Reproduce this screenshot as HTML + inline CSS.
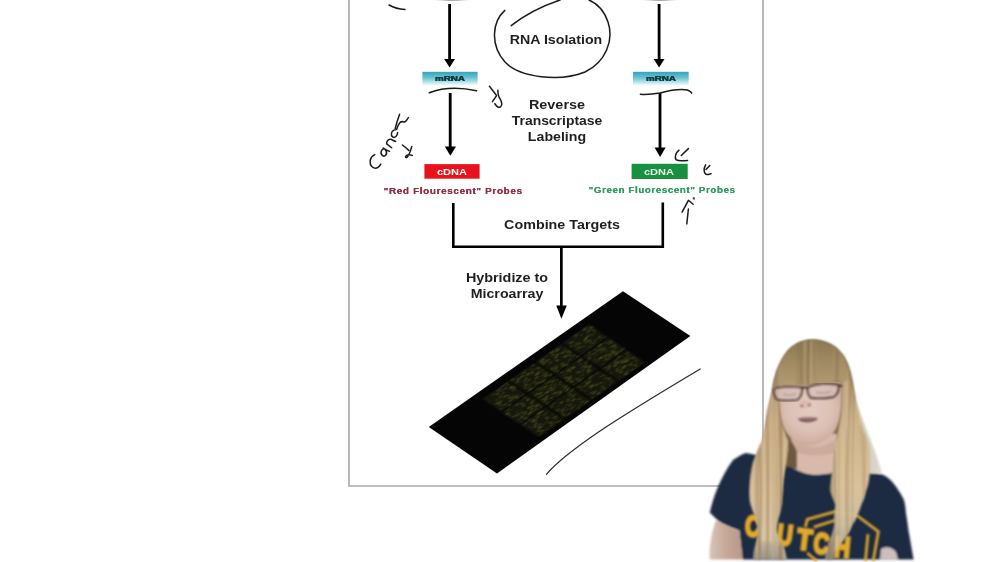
<!DOCTYPE html>
<html>
<head>
<meta charset="utf-8">
<style>
html,body{margin:0;padding:0;background:#fff;}
body{width:1000px;height:562px;position:relative;overflow:hidden;font-family:"Liberation Sans",sans-serif;}
.t{position:absolute;width:400px;text-align:center;font-weight:bold;white-space:nowrap;line-height:1;color:#1e1e1e;}
svg{position:absolute;left:0;top:0;}
</style>
</head>
<body>
<div id="wrap" style="position:absolute;left:0;top:0;width:1000px;height:562px;filter:blur(0.5px);">
<svg width="1000" height="562" viewBox="0 0 1000 562">
  <defs>
    <linearGradient id="mg" x1="0" y1="0" x2="0" y2="1">
      <stop offset="0" stop-color="#33a3b8"/>
      <stop offset="0.45" stop-color="#6cc3d2"/>
      <stop offset="1" stop-color="#f2fbfd"/>
    </linearGradient>
    <filter id="maBlur" x="-5%" y="-5%" width="110%" height="110%"><feGaussianBlur stdDeviation="0.35 0.9"/></filter>
    <radialGradient id="topblob" cx="0.5" cy="0.5" r="0.5">
      <stop offset="0" stop-color="#808080"/>
      <stop offset="0.5" stop-color="#a8a8a8"/>
      <stop offset="1" stop-color="#ffffff" stop-opacity="0"/>
    </radialGradient>
  </defs>
  <!-- frame -->
  <path d="M349 0 V486 H763 V0" fill="none" stroke="#a9a9a9" stroke-width="1.6"/>
  <!-- top blobs -->
  <ellipse cx="452" cy="-0.6" rx="22" ry="2.2" fill="url(#topblob)"/>
  <ellipse cx="660" cy="-0.6" rx="22" ry="2.2" fill="url(#topblob)"/>

  <!-- arrows column 1 -->
  <g fill="#000" stroke="none">
    <rect x="448.2" y="4" width="2.8" height="56"/>
    <path d="M444.2 59 L455 59 L449.6 67.5 Z"/>
    <rect x="657.7" y="4" width="2.8" height="56"/>
    <path d="M653.7 59 L664.5 59 L659.1 67.5 Z"/>
    <rect x="448.8" y="93" width="2.8" height="54"/>
    <path d="M444.8 146.5 L456 146.5 L450.3 155.8 Z"/>
    <rect x="658.6" y="93" width="2.8" height="55"/>
    <path d="M654.6 147.5 L665.6 147.5 L660.1 157 Z"/>
    <!-- combine -->
    <path d="M453.3 203 V246.7 H662.8 V202.5" fill="none" stroke="#000" stroke-width="2.6"/>
    <rect x="560" y="246" width="2.7" height="60"/>
    <path d="M556.3 305.5 L566.8 305.5 L561.4 318.7 Z"/>
  </g>

  <!-- mRNA boxes -->
  <rect x="422.4" y="71.8" width="55.2" height="13.5" fill="url(#mg)"/>
  <rect x="633" y="71.8" width="55.7" height="13.5" fill="url(#mg)"/>
  <!-- cDNA boxes -->
  <rect x="424.4" y="164.1" width="55.2" height="14.6" fill="#e8121c"/>
  <rect x="631.6" y="163.8" width="56.1" height="15.2" fill="#17913f"/>

  <!-- microarray slide -->
  <path d="M623 291.2 L690.3 336 L497 473.4 L428.8 427 Z" fill="#050505"/>
  <!-- microarray spots -->
  <g transform="matrix(1.94 -1.36 0.68 0.46 428.8 427)" filter="url(#maBlur)">
    <g fill="#121409"><rect x="24" y="10" width="13.0" height="28"/><rect x="24" y="39" width="13.0" height="26"/><rect x="24" y="66" width="13.0" height="27"/><rect x="37.8" y="10" width="13.0" height="28"/><rect x="37.8" y="39" width="13.0" height="26"/><rect x="37.8" y="66" width="13.0" height="27"/><rect x="51.6" y="10" width="13.0" height="28"/><rect x="51.6" y="39" width="13.0" height="26"/><rect x="51.6" y="66" width="13.0" height="27"/><rect x="65.4" y="10" width="13.6" height="28"/><rect x="65.4" y="39" width="13.6" height="26"/><rect x="65.4" y="66" width="13.6" height="27"/></g>
    <rect x="29.2" y="21.0" width="0.8" height="1.6" fill="#44441e"/><rect x="33.7" y="31.1" width="0.6" height="2.1" fill="#4a4820"/><rect x="33.7" y="10.7" width="0.8" height="1.5" fill="#4a4820"/><rect x="33.2" y="34.0" width="0.5" height="3.0" fill="#3c3e1c"/><rect x="33.1" y="32.8" width="0.8" height="2.9" fill="#4a4820"/><rect x="30.7" y="28.1" width="1.2" height="1.9" fill="#3c3e1c"/><rect x="26.1" y="31.3" width="1.1" height="1.2" fill="#3a3e1a"/><rect x="26.1" y="29.0" width="0.8" height="1.5" fill="#2c3414"/><rect x="24.6" y="32.6" width="0.6" height="1.6" fill="#33381a"/><rect x="32.3" y="30.9" width="1.0" height="2.6" fill="#3c3e1c"/><rect x="31.2" y="29.1" width="0.9" height="2.2" fill="#3a3e1a"/><rect x="28.9" y="19.1" width="1.1" height="1.9" fill="#33381a"/><rect x="28.6" y="21.9" width="0.7" height="2.1" fill="#2c3414"/><rect x="27.4" y="31.7" width="1.0" height="3.0" fill="#33381a"/><rect x="30.2" y="22.9" width="0.9" height="2.1" fill="#4a4820"/><rect x="31.1" y="18.5" width="0.6" height="2.4" fill="#4a4820"/><rect x="31.7" y="31.7" width="0.7" height="2.3" fill="#44441e"/><rect x="27.9" y="13.0" width="1.1" height="1.5" fill="#3a3e1a"/><rect x="29.3" y="14.4" width="1.0" height="2.8" fill="#3a3e1a"/><rect x="35.7" y="20.8" width="1.2" height="2.3" fill="#33381a"/><rect x="34.8" y="22.9" width="1.0" height="2.9" fill="#2c3414"/><rect x="27.2" y="24.7" width="1.1" height="2.6" fill="#2c3414"/><rect x="30.0" y="31.8" width="1.1" height="2.4" fill="#3a3e1a"/><rect x="24.6" y="16.7" width="0.5" height="1.8" fill="#2c3414"/><rect x="35.0" y="35.6" width="1.0" height="1.3" fill="#3c3e1c"/><rect x="25.9" y="27.0" width="0.8" height="2.9" fill="#3c3e1c"/><rect x="35.0" y="19.7" width="1.1" height="2.3" fill="#33381a"/><rect x="29.3" y="25.2" width="0.8" height="1.4" fill="#2a3012"/><rect x="31.3" y="13.9" width="0.5" height="2.4" fill="#3c3e1c"/><rect x="35.6" y="10.9" width="0.7" height="1.6" fill="#4a4820"/><rect x="35.7" y="21.1" width="0.8" height="2.9" fill="#3c3e1c"/><rect x="35.1" y="13.7" width="0.8" height="1.5" fill="#3a3e1a"/><rect x="31.9" y="30.5" width="1.1" height="2.4" fill="#3a3e1a"/><rect x="25.7" y="24.1" width="0.8" height="2.8" fill="#44441e"/><rect x="31.7" y="15.0" width="0.8" height="2.5" fill="#2a3012"/><rect x="30.8" y="11.5" width="0.9" height="2.5" fill="#3c3e1c"/><rect x="24.9" y="34.2" width="0.8" height="1.3" fill="#2c3414"/><rect x="33.4" y="14.8" width="0.7" height="2.9" fill="#3c3e1c"/><rect x="31.5" y="29.5" width="0.8" height="1.8" fill="#33381a"/><rect x="35.0" y="17.9" width="1.1" height="2.1" fill="#4a4820"/><rect x="31.1" y="24.3" width="0.9" height="2.5" fill="#3a3e1a"/><rect x="35.8" y="18.3" width="0.9" height="2.6" fill="#3c3e1c"/><rect x="26.5" y="26.1" width="1.2" height="1.8" fill="#44441e"/><rect x="28.0" y="35.8" width="1.1" height="2.4" fill="#3a3e1a"/><rect x="31.7" y="31.1" width="0.9" height="2.9" fill="#2c3414"/><rect x="32.4" y="28.4" width="0.9" height="1.9" fill="#2c3414"/><rect x="29.0" y="16.1" width="1.0" height="1.3" fill="#3a3e1a"/><rect x="27.5" y="25.4" width="1.0" height="2.0" fill="#2c3414"/><rect x="27.0" y="20.2" width="0.7" height="2.8" fill="#2c3414"/><rect x="32.1" y="11.3" width="0.8" height="2.5" fill="#33381a"/><rect x="33.6" y="54.2" width="0.9" height="2.5" fill="#2a3012"/><rect x="31.5" y="58.7" width="0.7" height="2.9" fill="#44441e"/><rect x="28.8" y="53.9" width="0.9" height="2.5" fill="#2a3012"/><rect x="35.1" y="43.1" width="0.7" height="1.9" fill="#33381a"/><rect x="25.9" y="52.4" width="0.9" height="2.3" fill="#3a3e1a"/><rect x="28.7" y="56.9" width="1.2" height="1.5" fill="#3a3e1a"/><rect x="29.4" y="55.4" width="0.9" height="2.4" fill="#44441e"/><rect x="27.3" y="61.8" width="0.9" height="2.9" fill="#44441e"/><rect x="35.8" y="60.6" width="0.6" height="2.3" fill="#4a4820"/><rect x="27.5" y="48.3" width="0.8" height="2.0" fill="#2c3414"/><rect x="31.6" y="46.0" width="1.0" height="2.3" fill="#33381a"/><rect x="25.4" y="62.4" width="0.5" height="2.7" fill="#33381a"/><rect x="35.4" y="56.0" width="0.6" height="2.2" fill="#3a3e1a"/><rect x="29.0" y="49.8" width="0.7" height="1.2" fill="#2c3414"/><rect x="30.7" y="41.5" width="0.6" height="1.9" fill="#44441e"/><rect x="24.2" y="43.2" width="1.1" height="2.7" fill="#4a4820"/><rect x="30.6" y="40.5" width="0.8" height="2.8" fill="#33381a"/><rect x="27.1" y="52.9" width="1.1" height="2.9" fill="#2a3012"/><rect x="34.8" y="39.7" width="0.6" height="2.0" fill="#4a4820"/><rect x="34.2" y="62.7" width="0.6" height="1.3" fill="#3c3e1c"/><rect x="34.0" y="53.7" width="0.8" height="2.4" fill="#4a4820"/><rect x="32.3" y="42.9" width="0.7" height="1.7" fill="#33381a"/><rect x="31.7" y="60.4" width="1.0" height="1.5" fill="#3a3e1a"/><rect x="25.4" y="58.9" width="0.7" height="1.3" fill="#44441e"/><rect x="24.6" y="51.0" width="1.1" height="1.9" fill="#3c3e1c"/><rect x="24.6" y="44.8" width="0.9" height="1.9" fill="#44441e"/><rect x="32.5" y="56.5" width="0.8" height="1.8" fill="#4a4820"/><rect x="26.8" y="51.2" width="0.7" height="2.2" fill="#3c3e1c"/><rect x="31.7" y="43.4" width="0.8" height="2.1" fill="#3c3e1c"/><rect x="34.6" y="49.8" width="1.1" height="2.4" fill="#3a3e1a"/><rect x="26.8" y="57.7" width="0.9" height="2.8" fill="#4a4820"/><rect x="35.8" y="48.5" width="1.2" height="2.6" fill="#2c3414"/><rect x="24.3" y="47.6" width="0.7" height="1.2" fill="#4a4820"/><rect x="28.7" y="57.0" width="1.2" height="2.2" fill="#33381a"/><rect x="34.8" y="44.2" width="0.9" height="2.6" fill="#4a4820"/><rect x="33.1" y="60.2" width="1.1" height="1.6" fill="#44441e"/><rect x="31.4" y="47.6" width="1.1" height="1.9" fill="#3c3e1c"/><rect x="25.8" y="39.9" width="1.2" height="2.6" fill="#2c3414"/><rect x="36.0" y="56.8" width="0.6" height="2.9" fill="#3c3e1c"/><rect x="30.5" y="60.5" width="0.7" height="1.5" fill="#4a4820"/><rect x="32.1" y="53.8" width="1.0" height="2.6" fill="#2c3414"/><rect x="32.0" y="45.3" width="1.1" height="1.6" fill="#2c3414"/><rect x="29.9" y="40.3" width="0.8" height="1.3" fill="#2a3012"/><rect x="34.1" y="53.2" width="0.7" height="1.5" fill="#2a3012"/><rect x="26.8" y="43.1" width="0.8" height="1.2" fill="#33381a"/><rect x="32.2" y="53.1" width="1.1" height="2.0" fill="#4a4820"/><rect x="30.0" y="59.9" width="1.1" height="2.1" fill="#4a4820"/><rect x="24.9" y="48.1" width="0.6" height="1.8" fill="#2a3012"/><rect x="28.5" y="52.6" width="0.9" height="2.4" fill="#2c3414"/><rect x="34.6" y="57.1" width="1.0" height="2.5" fill="#44441e"/><rect x="29.7" y="42.3" width="0.9" height="1.8" fill="#33381a"/><rect x="33.2" y="72.4" width="0.6" height="2.7" fill="#33381a"/><rect x="27.4" y="83.2" width="1.0" height="2.1" fill="#44441e"/><rect x="25.8" y="85.3" width="0.7" height="2.4" fill="#2c3414"/><rect x="28.2" y="82.3" width="0.5" height="2.7" fill="#44441e"/><rect x="27.6" y="72.8" width="0.8" height="1.4" fill="#2a3012"/><rect x="34.8" y="82.5" width="1.2" height="1.6" fill="#3a3e1a"/><rect x="32.7" y="78.4" width="1.2" height="1.9" fill="#4a4820"/><rect x="31.8" y="82.0" width="0.6" height="1.9" fill="#44441e"/><rect x="29.5" y="82.3" width="0.9" height="1.6" fill="#3c3e1c"/><rect x="33.7" y="66.8" width="1.1" height="2.7" fill="#3c3e1c"/><rect x="33.5" y="88.6" width="0.6" height="2.1" fill="#3c3e1c"/><rect x="26.2" y="86.0" width="1.0" height="1.7" fill="#44441e"/><rect x="35.8" y="77.6" width="0.6" height="2.3" fill="#33381a"/><rect x="34.4" y="71.8" width="0.6" height="2.4" fill="#3a3e1a"/><rect x="31.7" y="69.3" width="0.6" height="2.5" fill="#3a3e1a"/><rect x="30.7" y="68.4" width="0.7" height="2.2" fill="#33381a"/><rect x="27.1" y="77.0" width="1.1" height="2.1" fill="#2a3012"/><rect x="32.2" y="66.5" width="1.2" height="2.7" fill="#44441e"/><rect x="32.4" y="88.1" width="0.5" height="2.1" fill="#2c3414"/><rect x="34.9" y="85.4" width="0.8" height="1.3" fill="#4a4820"/><rect x="31.9" y="85.5" width="1.0" height="2.5" fill="#44441e"/><rect x="30.6" y="70.4" width="0.8" height="2.1" fill="#44441e"/><rect x="27.4" y="88.9" width="0.5" height="1.7" fill="#44441e"/><rect x="25.3" y="74.3" width="0.6" height="2.5" fill="#2a3012"/><rect x="27.9" y="75.9" width="1.0" height="2.0" fill="#44441e"/><rect x="27.0" y="75.5" width="1.1" height="2.1" fill="#2a3012"/><rect x="25.5" y="90.3" width="0.9" height="1.9" fill="#33381a"/><rect x="26.6" y="78.5" width="0.9" height="2.0" fill="#44441e"/><rect x="33.4" y="66.8" width="0.6" height="1.3" fill="#4a4820"/><rect x="26.8" y="87.8" width="0.5" height="2.6" fill="#44441e"/><rect x="34.4" y="90.1" width="1.0" height="2.2" fill="#33381a"/><rect x="28.7" y="73.2" width="1.1" height="1.5" fill="#4a4820"/><rect x="28.6" y="69.8" width="1.1" height="2.7" fill="#44441e"/><rect x="25.9" y="83.1" width="1.0" height="2.5" fill="#2a3012"/><rect x="25.1" y="67.7" width="1.2" height="1.8" fill="#3c3e1c"/><rect x="28.8" y="90.4" width="1.0" height="1.3" fill="#33381a"/><rect x="31.1" y="88.9" width="1.1" height="2.3" fill="#33381a"/><rect x="33.1" y="85.8" width="0.5" height="1.6" fill="#2a3012"/><rect x="28.7" y="71.0" width="1.0" height="2.1" fill="#3c3e1c"/><rect x="35.8" y="82.5" width="0.8" height="2.9" fill="#2c3414"/><rect x="33.4" y="79.1" width="0.6" height="1.2" fill="#3a3e1a"/><rect x="25.3" y="77.5" width="0.8" height="1.3" fill="#2a3012"/><rect x="28.1" y="70.7" width="0.7" height="2.0" fill="#4a4820"/><rect x="32.7" y="76.5" width="1.2" height="2.2" fill="#2c3414"/><rect x="27.6" y="66.4" width="1.1" height="3.0" fill="#2c3414"/><rect x="27.3" y="81.7" width="1.1" height="1.7" fill="#44441e"/><rect x="28.4" y="79.4" width="1.2" height="1.8" fill="#3c3e1c"/><rect x="39.9" y="12.7" width="1.0" height="1.2" fill="#2a3012"/><rect x="42.1" y="14.6" width="1.0" height="2.1" fill="#44441e"/><rect x="38.5" y="11.0" width="0.9" height="2.2" fill="#44441e"/><rect x="48.2" y="32.1" width="1.0" height="2.3" fill="#4a4820"/><rect x="40.4" y="14.8" width="0.7" height="1.7" fill="#3c3e1c"/><rect x="40.6" y="20.5" width="1.1" height="1.7" fill="#2a3012"/><rect x="49.1" y="11.4" width="0.7" height="1.7" fill="#44441e"/><rect x="43.2" y="32.8" width="0.9" height="2.8" fill="#3a3e1a"/><rect x="43.6" y="28.6" width="0.6" height="2.5" fill="#2a3012"/><rect x="43.3" y="11.6" width="1.1" height="1.4" fill="#2c3414"/><rect x="46.6" y="22.8" width="1.1" height="2.8" fill="#33381a"/><rect x="45.4" y="10.5" width="0.5" height="1.8" fill="#2a3012"/><rect x="39.7" y="26.6" width="1.1" height="2.8" fill="#3c3e1c"/><rect x="49.8" y="35.0" width="0.9" height="1.9" fill="#3a3e1a"/><rect x="45.3" y="20.5" width="0.8" height="1.7" fill="#2c3414"/><rect x="44.8" y="26.7" width="0.7" height="2.9" fill="#33381a"/><rect x="39.7" y="33.9" width="0.7" height="1.7" fill="#3c3e1c"/><rect x="42.2" y="24.1" width="0.8" height="2.1" fill="#3a3e1a"/><rect x="48.9" y="26.8" width="0.8" height="2.1" fill="#33381a"/><rect x="44.2" y="16.5" width="0.8" height="2.6" fill="#4a4820"/><rect x="46.2" y="18.4" width="0.9" height="2.1" fill="#4a4820"/><rect x="43.0" y="16.2" width="0.7" height="2.4" fill="#2a3012"/><rect x="49.7" y="23.9" width="0.6" height="2.5" fill="#33381a"/><rect x="41.2" y="29.6" width="0.9" height="1.7" fill="#2c3414"/><rect x="44.0" y="12.5" width="1.0" height="2.3" fill="#4a4820"/><rect x="39.4" y="17.8" width="0.6" height="2.2" fill="#3a3e1a"/><rect x="46.4" y="23.4" width="0.9" height="2.6" fill="#4a4820"/><rect x="45.6" y="26.8" width="0.8" height="2.4" fill="#3c3e1c"/><rect x="46.1" y="17.0" width="0.6" height="1.5" fill="#3c3e1c"/><rect x="46.5" y="35.2" width="0.6" height="2.4" fill="#2c3414"/><rect x="49.9" y="34.2" width="1.0" height="1.9" fill="#3c3e1c"/><rect x="41.4" y="29.1" width="0.5" height="1.9" fill="#33381a"/><rect x="42.5" y="19.1" width="0.9" height="1.7" fill="#2c3414"/><rect x="39.9" y="33.3" width="0.6" height="1.8" fill="#2a3012"/><rect x="47.6" y="16.1" width="0.9" height="1.8" fill="#2a3012"/><rect x="44.3" y="33.9" width="0.6" height="2.9" fill="#4a4820"/><rect x="48.2" y="22.7" width="0.9" height="1.5" fill="#2a3012"/><rect x="49.5" y="20.0" width="0.8" height="1.3" fill="#44441e"/><rect x="40.0" y="15.1" width="0.8" height="2.3" fill="#4a4820"/><rect x="40.0" y="30.9" width="0.7" height="2.4" fill="#2c3414"/><rect x="40.5" y="23.5" width="0.6" height="3.0" fill="#33381a"/><rect x="38.5" y="35.1" width="1.0" height="2.2" fill="#2a3012"/><rect x="47.5" y="22.6" width="1.1" height="2.8" fill="#3a3e1a"/><rect x="38.6" y="30.0" width="0.9" height="1.5" fill="#4a4820"/><rect x="44.2" y="12.6" width="0.6" height="1.9" fill="#2a3012"/><rect x="45.9" y="31.3" width="0.7" height="2.3" fill="#2a3012"/><rect x="38.7" y="16.6" width="1.0" height="2.5" fill="#3a3e1a"/><rect x="44.9" y="16.5" width="0.7" height="2.6" fill="#44441e"/><rect x="43.1" y="30.4" width="1.0" height="1.9" fill="#3c3e1c"/><rect x="42.1" y="34.6" width="0.6" height="1.9" fill="#2a3012"/><rect x="47.5" y="29.7" width="1.0" height="1.2" fill="#44441e"/><rect x="45.6" y="35.5" width="1.0" height="2.8" fill="#3a3e1a"/><rect x="49.4" y="22.4" width="1.1" height="2.0" fill="#2a3012"/><rect x="42.7" y="23.8" width="1.0" height="1.5" fill="#3a3e1a"/><rect x="44.6" y="34.2" width="0.8" height="1.9" fill="#33381a"/><rect x="44.6" y="34.6" width="0.8" height="2.8" fill="#2c3414"/><rect x="47.0" y="14.0" width="0.9" height="2.9" fill="#2a3012"/><rect x="46.6" y="34.4" width="0.8" height="1.6" fill="#33381a"/><rect x="41.3" y="15.6" width="1.0" height="1.6" fill="#33381a"/><rect x="42.0" y="20.5" width="1.0" height="2.2" fill="#3c3e1c"/><rect x="49.1" y="17.5" width="1.1" height="2.8" fill="#3a3e1a"/><rect x="48.5" y="29.9" width="1.0" height="2.7" fill="#3a3e1a"/><rect x="40.9" y="22.8" width="0.8" height="1.3" fill="#2c3414"/><rect x="49.8" y="29.4" width="0.5" height="2.2" fill="#44441e"/><rect x="39.5" y="35.2" width="1.2" height="1.9" fill="#4a4820"/><rect x="43.6" y="57.2" width="0.9" height="1.7" fill="#3a3e1a"/><rect x="45.5" y="40.5" width="0.7" height="1.5" fill="#3c3e1c"/><rect x="38.5" y="62.0" width="0.9" height="2.7" fill="#33381a"/><rect x="44.1" y="43.1" width="0.9" height="2.6" fill="#4a4820"/><rect x="49.7" y="45.4" width="0.9" height="1.4" fill="#3c3e1c"/><rect x="44.3" y="48.3" width="1.0" height="1.7" fill="#2c3414"/><rect x="43.8" y="54.3" width="0.7" height="2.2" fill="#2a3012"/><rect x="42.0" y="39.3" width="0.8" height="2.4" fill="#2a3012"/><rect x="45.7" y="61.8" width="0.5" height="1.2" fill="#33381a"/><rect x="49.8" y="61.6" width="0.6" height="1.7" fill="#3a3e1a"/><rect x="38.5" y="54.6" width="0.9" height="2.1" fill="#3c3e1c"/><rect x="45.7" y="59.0" width="1.2" height="2.7" fill="#33381a"/><rect x="41.8" y="59.8" width="1.0" height="1.7" fill="#33381a"/><rect x="46.1" y="45.9" width="0.8" height="1.6" fill="#44441e"/><rect x="47.8" y="43.6" width="1.1" height="2.8" fill="#2a3012"/><rect x="38.4" y="57.9" width="0.9" height="2.3" fill="#33381a"/><rect x="44.9" y="49.0" width="0.9" height="1.8" fill="#3c3e1c"/><rect x="44.6" y="56.9" width="0.9" height="2.6" fill="#3a3e1a"/><rect x="39.9" y="55.2" width="1.1" height="1.5" fill="#2c3414"/><rect x="49.6" y="49.6" width="1.0" height="1.5" fill="#3c3e1c"/><rect x="48.5" y="51.6" width="0.7" height="1.4" fill="#3a3e1a"/><rect x="44.7" y="51.2" width="0.7" height="2.9" fill="#44441e"/><rect x="41.4" y="39.7" width="0.7" height="2.7" fill="#33381a"/><rect x="40.2" y="47.1" width="1.0" height="1.8" fill="#2c3414"/><rect x="40.1" y="56.2" width="0.8" height="2.7" fill="#2c3414"/><rect x="40.7" y="54.7" width="1.2" height="2.7" fill="#33381a"/><rect x="46.7" y="50.9" width="0.6" height="1.5" fill="#4a4820"/><rect x="42.2" y="42.9" width="1.0" height="2.7" fill="#2c3414"/><rect x="44.6" y="62.9" width="0.8" height="1.8" fill="#2c3414"/><rect x="40.4" y="46.7" width="1.1" height="2.1" fill="#4a4820"/><rect x="47.5" y="48.2" width="0.9" height="1.8" fill="#3c3e1c"/><rect x="45.6" y="43.4" width="0.5" height="1.7" fill="#2a3012"/><rect x="39.4" y="57.4" width="1.0" height="2.5" fill="#33381a"/><rect x="38.4" y="44.9" width="1.1" height="1.3" fill="#3c3e1c"/><rect x="45.4" y="48.7" width="0.6" height="2.0" fill="#4a4820"/><rect x="44.8" y="57.9" width="0.8" height="2.3" fill="#3c3e1c"/><rect x="39.6" y="55.6" width="0.6" height="2.6" fill="#4a4820"/><rect x="48.2" y="62.8" width="1.0" height="2.5" fill="#4a4820"/><rect x="39.5" y="44.0" width="0.9" height="2.3" fill="#2a3012"/><rect x="49.9" y="58.0" width="0.7" height="1.9" fill="#3a3e1a"/><rect x="46.6" y="40.9" width="0.7" height="2.2" fill="#4a4820"/><rect x="43.4" y="46.5" width="0.5" height="1.6" fill="#3c3e1c"/><rect x="38.6" y="46.5" width="0.9" height="2.0" fill="#2c3414"/><rect x="38.9" y="54.6" width="0.9" height="1.9" fill="#2a3012"/><rect x="45.6" y="60.9" width="1.1" height="1.8" fill="#4a4820"/><rect x="43.8" y="57.3" width="1.1" height="1.9" fill="#3a3e1a"/><rect x="48.2" y="42.9" width="1.2" height="1.2" fill="#4a4820"/><rect x="48.7" y="55.7" width="1.1" height="1.8" fill="#33381a"/><rect x="43.3" y="41.7" width="0.5" height="1.5" fill="#44441e"/><rect x="40.2" y="50.2" width="0.9" height="2.0" fill="#3c3e1c"/><rect x="39.4" y="49.9" width="0.6" height="1.3" fill="#4a4820"/><rect x="47.6" y="41.1" width="0.7" height="1.9" fill="#3a3e1a"/><rect x="41.3" y="59.5" width="0.7" height="1.6" fill="#3a3e1a"/><rect x="44.0" y="61.4" width="0.8" height="1.3" fill="#33381a"/><rect x="41.7" y="49.6" width="0.6" height="2.3" fill="#2a3012"/><rect x="38.3" y="59.9" width="0.9" height="1.6" fill="#2a3012"/><rect x="45.4" y="52.1" width="0.6" height="2.3" fill="#3c3e1c"/><rect x="48.3" y="59.4" width="1.2" height="2.0" fill="#3a3e1a"/><rect x="42.4" y="50.1" width="1.2" height="2.6" fill="#4a4820"/><rect x="41.6" y="42.1" width="0.6" height="2.4" fill="#33381a"/><rect x="39.2" y="44.8" width="1.2" height="1.8" fill="#3c3e1c"/><rect x="38.5" y="50.3" width="0.9" height="1.8" fill="#3a3e1a"/><rect x="44.1" y="51.3" width="1.1" height="1.7" fill="#3a3e1a"/><rect x="49.4" y="58.2" width="0.7" height="2.3" fill="#3a3e1a"/><rect x="49.3" y="61.8" width="0.8" height="3.0" fill="#33381a"/><rect x="49.1" y="51.5" width="0.8" height="3.0" fill="#2a3012"/><rect x="43.3" y="42.5" width="1.1" height="1.5" fill="#33381a"/><rect x="39.7" y="90.1" width="1.1" height="1.5" fill="#44441e"/><rect x="42.7" y="78.8" width="1.0" height="1.4" fill="#3a3e1a"/><rect x="40.9" y="80.4" width="0.8" height="1.8" fill="#3a3e1a"/><rect x="42.3" y="71.9" width="0.9" height="2.6" fill="#4a4820"/><rect x="46.0" y="78.4" width="0.8" height="2.2" fill="#3a3e1a"/><rect x="42.6" y="66.5" width="1.1" height="1.2" fill="#2a3012"/><rect x="47.5" y="70.9" width="0.7" height="1.8" fill="#3c3e1c"/><rect x="44.5" y="90.5" width="1.0" height="2.6" fill="#33381a"/><rect x="44.5" y="74.2" width="1.0" height="1.2" fill="#2c3414"/><rect x="38.3" y="85.0" width="0.8" height="1.9" fill="#3c3e1c"/><rect x="45.2" y="73.6" width="0.7" height="2.8" fill="#44441e"/><rect x="43.4" y="83.7" width="0.7" height="1.3" fill="#2c3414"/><rect x="38.3" y="69.4" width="0.5" height="2.5" fill="#3a3e1a"/><rect x="43.5" y="80.8" width="1.1" height="1.9" fill="#44441e"/><rect x="43.0" y="86.7" width="1.1" height="1.5" fill="#3c3e1c"/><rect x="48.5" y="81.6" width="0.6" height="2.9" fill="#4a4820"/><rect x="48.1" y="81.6" width="0.7" height="1.6" fill="#2c3414"/><rect x="39.0" y="83.9" width="0.7" height="1.9" fill="#2c3414"/><rect x="38.2" y="87.5" width="0.9" height="2.0" fill="#44441e"/><rect x="47.5" y="69.5" width="0.5" height="2.0" fill="#4a4820"/><rect x="49.9" y="66.6" width="1.2" height="1.4" fill="#33381a"/><rect x="49.7" y="90.2" width="0.6" height="2.3" fill="#2c3414"/><rect x="38.6" y="77.4" width="1.0" height="2.6" fill="#44441e"/><rect x="39.4" y="81.2" width="1.1" height="2.5" fill="#33381a"/><rect x="48.2" y="73.8" width="0.9" height="1.6" fill="#3c3e1c"/><rect x="49.0" y="66.5" width="0.8" height="2.1" fill="#2a3012"/><rect x="46.5" y="78.0" width="0.7" height="2.7" fill="#4a4820"/><rect x="48.3" y="90.0" width="0.8" height="2.7" fill="#4a4820"/><rect x="47.8" y="86.8" width="0.9" height="1.8" fill="#44441e"/><rect x="47.8" y="80.0" width="0.5" height="2.8" fill="#2a3012"/><rect x="39.8" y="81.0" width="0.6" height="1.8" fill="#4a4820"/><rect x="39.9" y="73.7" width="0.9" height="1.4" fill="#2a3012"/><rect x="44.7" y="75.9" width="0.9" height="2.1" fill="#33381a"/><rect x="42.5" y="86.3" width="0.5" height="1.4" fill="#4a4820"/><rect x="47.9" y="66.9" width="0.6" height="3.0" fill="#2c3414"/><rect x="43.7" y="81.3" width="0.9" height="2.8" fill="#2a3012"/><rect x="40.1" y="67.7" width="0.7" height="1.7" fill="#3a3e1a"/><rect x="48.5" y="88.1" width="0.7" height="2.9" fill="#2a3012"/><rect x="47.3" y="72.3" width="0.5" height="1.5" fill="#2a3012"/><rect x="38.3" y="77.6" width="0.5" height="1.7" fill="#44441e"/><rect x="41.2" y="83.6" width="0.6" height="2.0" fill="#44441e"/><rect x="49.7" y="90.3" width="0.5" height="1.9" fill="#4a4820"/><rect x="49.2" y="67.8" width="0.8" height="1.3" fill="#33381a"/><rect x="45.8" y="89.0" width="0.9" height="1.4" fill="#33381a"/><rect x="38.9" y="67.7" width="0.6" height="2.1" fill="#33381a"/><rect x="47.9" y="71.3" width="0.9" height="2.4" fill="#2c3414"/><rect x="47.1" y="74.4" width="1.2" height="2.7" fill="#2a3012"/><rect x="49.6" y="66.9" width="0.5" height="2.8" fill="#3a3e1a"/><rect x="38.6" y="77.1" width="0.9" height="2.8" fill="#2c3414"/><rect x="43.1" y="85.2" width="0.5" height="1.5" fill="#33381a"/><rect x="44.3" y="85.2" width="1.1" height="1.8" fill="#2a3012"/><rect x="49.0" y="74.1" width="0.9" height="1.5" fill="#2a3012"/><rect x="63.2" y="26.4" width="1.0" height="1.4" fill="#2c3414"/><rect x="52.4" y="13.2" width="0.6" height="2.3" fill="#44441e"/><rect x="53.4" y="11.9" width="1.1" height="2.5" fill="#4a4820"/><rect x="61.0" y="20.1" width="1.2" height="1.3" fill="#3a3e1a"/><rect x="53.4" y="34.9" width="0.6" height="1.5" fill="#2a3012"/><rect x="60.3" y="12.8" width="1.1" height="2.3" fill="#3a3e1a"/><rect x="61.6" y="11.6" width="0.6" height="2.8" fill="#4a4820"/><rect x="61.2" y="19.9" width="0.7" height="2.3" fill="#4a4820"/><rect x="63.1" y="21.2" width="0.9" height="2.7" fill="#2a3012"/><rect x="52.1" y="17.2" width="1.0" height="2.6" fill="#3a3e1a"/><rect x="62.9" y="31.6" width="1.2" height="1.5" fill="#3a3e1a"/><rect x="56.8" y="30.6" width="1.1" height="1.8" fill="#2c3414"/><rect x="54.7" y="20.4" width="0.8" height="1.4" fill="#44441e"/><rect x="56.7" y="31.9" width="0.9" height="1.4" fill="#44441e"/><rect x="56.1" y="34.2" width="1.1" height="2.7" fill="#2a3012"/><rect x="56.9" y="21.9" width="0.7" height="2.5" fill="#33381a"/><rect x="59.0" y="12.1" width="0.5" height="2.0" fill="#33381a"/><rect x="57.6" y="35.7" width="1.0" height="2.8" fill="#3c3e1c"/><rect x="54.6" y="29.4" width="0.6" height="2.2" fill="#3c3e1c"/><rect x="59.3" y="11.0" width="1.1" height="2.0" fill="#33381a"/><rect x="53.6" y="15.7" width="0.8" height="2.8" fill="#2a3012"/><rect x="56.6" y="32.9" width="0.7" height="2.3" fill="#2a3012"/><rect x="60.7" y="27.3" width="0.7" height="2.3" fill="#2c3414"/><rect x="54.2" y="29.1" width="1.0" height="1.5" fill="#3c3e1c"/><rect x="57.1" y="33.7" width="0.9" height="2.9" fill="#3a3e1a"/><rect x="58.0" y="18.6" width="1.0" height="1.9" fill="#2c3414"/><rect x="52.7" y="33.3" width="0.9" height="1.6" fill="#3a3e1a"/><rect x="62.1" y="28.6" width="0.8" height="2.9" fill="#33381a"/><rect x="63.7" y="17.2" width="0.9" height="1.8" fill="#2a3012"/><rect x="57.0" y="23.9" width="0.9" height="2.9" fill="#3c3e1c"/><rect x="58.3" y="10.6" width="1.0" height="2.6" fill="#3c3e1c"/><rect x="59.2" y="17.9" width="1.1" height="2.1" fill="#44441e"/><rect x="52.5" y="14.6" width="0.6" height="2.5" fill="#3a3e1a"/><rect x="60.1" y="32.9" width="0.8" height="2.2" fill="#2a3012"/><rect x="52.1" y="14.4" width="0.7" height="2.5" fill="#2c3414"/><rect x="59.9" y="24.4" width="0.6" height="1.4" fill="#33381a"/><rect x="57.3" y="31.8" width="1.0" height="2.6" fill="#2c3414"/><rect x="62.6" y="20.5" width="0.9" height="1.3" fill="#4a4820"/><rect x="53.8" y="17.4" width="0.6" height="1.9" fill="#44441e"/><rect x="62.6" y="19.0" width="1.0" height="3.0" fill="#2a3012"/><rect x="60.2" y="13.9" width="0.7" height="1.4" fill="#3c3e1c"/><rect x="63.4" y="23.6" width="0.8" height="2.5" fill="#4a4820"/><rect x="53.8" y="31.8" width="1.1" height="1.8" fill="#4a4820"/><rect x="53.0" y="35.9" width="0.7" height="2.5" fill="#44441e"/><rect x="63.7" y="35.0" width="0.8" height="2.3" fill="#44441e"/><rect x="55.0" y="17.3" width="0.7" height="2.1" fill="#3c3e1c"/><rect x="61.7" y="24.6" width="0.6" height="1.5" fill="#33381a"/><rect x="52.6" y="28.4" width="0.9" height="2.8" fill="#44441e"/><rect x="52.7" y="29.9" width="1.2" height="2.9" fill="#2c3414"/><rect x="58.1" y="15.9" width="0.9" height="1.4" fill="#2a3012"/><rect x="57.9" y="14.9" width="0.9" height="1.9" fill="#44441e"/><rect x="53.3" y="14.7" width="0.6" height="1.6" fill="#4a4820"/><rect x="54.3" y="21.3" width="1.1" height="2.9" fill="#2c3414"/><rect x="58.0" y="19.6" width="0.9" height="2.5" fill="#4a4820"/><rect x="60.9" y="32.2" width="0.5" height="1.9" fill="#44441e"/><rect x="55.7" y="11.9" width="0.7" height="1.5" fill="#3a3e1a"/><rect x="62.5" y="22.1" width="0.7" height="2.3" fill="#2c3414"/><rect x="55.0" y="16.2" width="0.6" height="2.0" fill="#44441e"/><rect x="56.5" y="31.6" width="1.2" height="2.4" fill="#2c3414"/><rect x="60.7" y="13.2" width="1.0" height="2.6" fill="#3c3e1c"/><rect x="62.1" y="26.7" width="1.0" height="1.7" fill="#3a3e1a"/><rect x="58.9" y="12.2" width="0.6" height="1.9" fill="#44441e"/><rect x="60.4" y="25.5" width="1.0" height="2.8" fill="#44441e"/><rect x="53.0" y="17.3" width="0.5" height="1.7" fill="#3a3e1a"/><rect x="57.8" y="58.7" width="0.9" height="2.4" fill="#2a3012"/><rect x="58.2" y="53.4" width="0.7" height="2.7" fill="#33381a"/><rect x="61.4" y="45.8" width="0.6" height="2.1" fill="#3a3e1a"/><rect x="62.6" y="55.0" width="1.1" height="2.8" fill="#44441e"/><rect x="53.2" y="51.8" width="1.1" height="2.5" fill="#44441e"/><rect x="61.8" y="51.9" width="1.1" height="2.9" fill="#44441e"/><rect x="56.7" y="62.1" width="0.6" height="1.3" fill="#3c3e1c"/><rect x="55.0" y="61.9" width="1.0" height="2.9" fill="#3c3e1c"/><rect x="52.9" y="49.0" width="0.7" height="2.7" fill="#44441e"/><rect x="61.3" y="49.8" width="0.8" height="1.4" fill="#4a4820"/><rect x="63.4" y="40.2" width="0.6" height="2.8" fill="#4a4820"/><rect x="54.4" y="41.9" width="0.8" height="1.3" fill="#2c3414"/><rect x="54.6" y="55.8" width="0.7" height="1.7" fill="#2a3012"/><rect x="52.8" y="48.4" width="0.7" height="2.3" fill="#44441e"/><rect x="52.5" y="56.6" width="0.9" height="2.9" fill="#2c3414"/><rect x="57.2" y="42.1" width="0.9" height="1.7" fill="#3a3e1a"/><rect x="62.1" y="39.9" width="0.6" height="1.3" fill="#2c3414"/><rect x="60.4" y="50.3" width="0.9" height="2.2" fill="#2a3012"/><rect x="63.3" y="54.6" width="1.0" height="1.7" fill="#33381a"/><rect x="52.8" y="54.2" width="1.0" height="2.9" fill="#3a3e1a"/><rect x="63.7" y="42.3" width="0.6" height="1.2" fill="#33381a"/><rect x="60.6" y="59.3" width="0.7" height="2.7" fill="#2a3012"/><rect x="54.9" y="58.6" width="1.2" height="2.8" fill="#3a3e1a"/><rect x="57.7" y="52.2" width="1.0" height="2.0" fill="#3a3e1a"/><rect x="62.7" y="48.4" width="0.8" height="2.8" fill="#2a3012"/><rect x="52.8" y="58.0" width="0.9" height="2.0" fill="#4a4820"/><rect x="53.6" y="51.7" width="0.8" height="2.6" fill="#4a4820"/><rect x="51.9" y="53.2" width="0.9" height="1.4" fill="#4a4820"/><rect x="58.6" y="43.8" width="1.0" height="2.7" fill="#2c3414"/><rect x="58.1" y="43.3" width="1.1" height="2.9" fill="#4a4820"/><rect x="53.6" y="41.2" width="1.0" height="1.6" fill="#2c3414"/><rect x="61.4" y="52.3" width="0.9" height="1.6" fill="#44441e"/><rect x="59.8" y="54.1" width="1.1" height="1.6" fill="#3a3e1a"/><rect x="60.5" y="59.8" width="1.0" height="2.5" fill="#3c3e1c"/><rect x="57.9" y="52.0" width="0.9" height="1.4" fill="#4a4820"/><rect x="62.1" y="41.7" width="1.2" height="1.8" fill="#4a4820"/><rect x="61.6" y="59.9" width="0.8" height="1.5" fill="#33381a"/><rect x="53.0" y="44.8" width="0.8" height="2.0" fill="#2a3012"/><rect x="61.2" y="57.4" width="1.0" height="2.8" fill="#44441e"/><rect x="56.5" y="62.4" width="0.6" height="2.5" fill="#2c3414"/><rect x="54.6" y="58.9" width="1.0" height="1.6" fill="#2a3012"/><rect x="54.4" y="51.0" width="0.8" height="2.4" fill="#33381a"/><rect x="54.2" y="45.1" width="0.8" height="2.8" fill="#2a3012"/><rect x="61.5" y="53.8" width="0.9" height="1.2" fill="#2a3012"/><rect x="56.1" y="44.4" width="1.2" height="2.8" fill="#3c3e1c"/><rect x="59.1" y="56.1" width="0.6" height="2.6" fill="#2a3012"/><rect x="52.3" y="62.2" width="0.9" height="1.6" fill="#2a3012"/><rect x="55.9" y="42.4" width="1.0" height="2.2" fill="#4a4820"/><rect x="57.3" y="58.3" width="0.7" height="1.7" fill="#2c3414"/><rect x="63.7" y="47.3" width="0.8" height="2.2" fill="#44441e"/><rect x="53.6" y="40.1" width="0.8" height="1.6" fill="#2c3414"/><rect x="55.0" y="85.5" width="0.8" height="2.9" fill="#3c3e1c"/><rect x="62.7" y="74.6" width="1.2" height="1.4" fill="#44441e"/><rect x="56.1" y="69.6" width="1.0" height="2.9" fill="#3c3e1c"/><rect x="58.2" y="87.0" width="1.2" height="1.5" fill="#44441e"/><rect x="57.5" y="70.4" width="0.9" height="2.4" fill="#3c3e1c"/><rect x="58.9" y="84.4" width="0.7" height="2.3" fill="#2c3414"/><rect x="63.3" y="77.0" width="1.1" height="1.7" fill="#2a3012"/><rect x="55.2" y="78.6" width="1.1" height="1.4" fill="#4a4820"/><rect x="63.4" y="82.4" width="0.9" height="2.5" fill="#4a4820"/><rect x="56.3" y="68.1" width="0.8" height="2.9" fill="#2a3012"/><rect x="58.5" y="67.7" width="1.0" height="2.1" fill="#44441e"/><rect x="54.0" y="86.3" width="0.5" height="2.6" fill="#44441e"/><rect x="52.3" y="74.1" width="0.6" height="1.4" fill="#44441e"/><rect x="61.1" y="89.3" width="1.0" height="1.2" fill="#33381a"/><rect x="56.3" y="77.5" width="1.1" height="2.5" fill="#3a3e1a"/><rect x="53.6" y="83.9" width="0.8" height="2.4" fill="#4a4820"/><rect x="62.0" y="74.2" width="1.1" height="1.7" fill="#2a3012"/><rect x="62.4" y="67.1" width="0.6" height="2.3" fill="#3a3e1a"/><rect x="58.8" y="86.2" width="1.1" height="1.5" fill="#2a3012"/><rect x="62.2" y="68.1" width="1.0" height="2.9" fill="#2a3012"/><rect x="52.8" y="77.8" width="0.7" height="1.8" fill="#33381a"/><rect x="55.3" y="75.6" width="1.0" height="1.7" fill="#2c3414"/><rect x="63.6" y="81.8" width="0.7" height="1.6" fill="#3a3e1a"/><rect x="62.8" y="83.8" width="0.9" height="1.4" fill="#2a3012"/><rect x="53.5" y="84.9" width="1.0" height="2.4" fill="#2c3414"/><rect x="56.5" y="88.6" width="1.1" height="1.4" fill="#2a3012"/><rect x="57.2" y="76.8" width="0.7" height="2.5" fill="#2a3012"/><rect x="57.7" y="79.2" width="1.1" height="2.8" fill="#3c3e1c"/><rect x="56.3" y="77.2" width="1.1" height="2.5" fill="#33381a"/><rect x="60.4" y="67.0" width="0.8" height="2.3" fill="#2c3414"/><rect x="63.0" y="87.1" width="1.0" height="2.2" fill="#2c3414"/><rect x="55.9" y="76.7" width="0.9" height="2.6" fill="#44441e"/><rect x="62.7" y="79.7" width="0.7" height="2.2" fill="#4a4820"/><rect x="53.5" y="71.2" width="0.7" height="1.3" fill="#2a3012"/><rect x="52.7" y="70.7" width="1.1" height="1.7" fill="#2c3414"/><rect x="54.3" y="86.0" width="0.6" height="1.9" fill="#2c3414"/><rect x="62.3" y="87.0" width="0.7" height="1.3" fill="#3c3e1c"/><rect x="55.0" y="90.0" width="1.1" height="2.4" fill="#4a4820"/><rect x="52.5" y="68.0" width="1.0" height="2.8" fill="#2c3414"/><rect x="58.4" y="89.8" width="0.9" height="1.9" fill="#4a4820"/><rect x="56.1" y="71.5" width="1.2" height="2.1" fill="#4a4820"/><rect x="59.6" y="80.4" width="1.0" height="2.5" fill="#3a3e1a"/><rect x="51.9" y="90.2" width="0.5" height="2.6" fill="#2c3414"/><rect x="59.4" y="66.5" width="0.9" height="1.3" fill="#4a4820"/><rect x="60.7" y="82.9" width="0.8" height="2.7" fill="#2a3012"/><rect x="52.2" y="89.8" width="0.6" height="1.8" fill="#33381a"/><rect x="54.5" y="72.0" width="1.0" height="2.2" fill="#3a3e1a"/><rect x="67.6" y="26.8" width="0.9" height="2.5" fill="#3c3e1c"/><rect x="71.0" y="10.8" width="0.9" height="1.8" fill="#44441e"/><rect x="74.5" y="20.3" width="1.0" height="2.2" fill="#2c3414"/><rect x="77.9" y="14.6" width="0.9" height="2.4" fill="#4a4820"/><rect x="77.7" y="17.4" width="0.7" height="1.7" fill="#33381a"/><rect x="76.4" y="10.8" width="1.0" height="1.2" fill="#33381a"/><rect x="75.3" y="22.7" width="1.0" height="2.7" fill="#2c3414"/><rect x="78.2" y="34.5" width="0.5" height="2.9" fill="#2a3012"/><rect x="71.7" y="10.8" width="0.5" height="1.2" fill="#3c3e1c"/><rect x="72.1" y="26.9" width="1.2" height="1.9" fill="#44441e"/><rect x="71.3" y="24.9" width="0.6" height="2.7" fill="#2a3012"/><rect x="73.3" y="21.5" width="0.8" height="2.9" fill="#2c3414"/><rect x="70.8" y="35.3" width="0.8" height="1.5" fill="#2a3012"/><rect x="72.5" y="32.4" width="1.2" height="2.4" fill="#3c3e1c"/><rect x="76.0" y="14.3" width="0.9" height="2.4" fill="#2c3414"/><rect x="75.8" y="16.9" width="1.1" height="1.7" fill="#3c3e1c"/><rect x="71.3" y="11.8" width="0.5" height="2.9" fill="#3c3e1c"/><rect x="70.1" y="14.7" width="0.5" height="2.0" fill="#2a3012"/><rect x="69.3" y="22.4" width="0.5" height="2.6" fill="#33381a"/><rect x="72.7" y="15.4" width="0.6" height="1.4" fill="#4a4820"/><rect x="74.3" y="21.5" width="1.0" height="1.6" fill="#2a3012"/><rect x="72.6" y="26.7" width="1.0" height="1.6" fill="#3c3e1c"/><rect x="67.0" y="14.3" width="0.8" height="2.7" fill="#3a3e1a"/><rect x="70.7" y="11.5" width="0.7" height="1.6" fill="#2a3012"/><rect x="76.6" y="31.7" width="0.6" height="2.9" fill="#3a3e1a"/><rect x="72.6" y="11.2" width="0.5" height="1.8" fill="#2a3012"/><rect x="67.2" y="22.1" width="0.7" height="2.7" fill="#33381a"/><rect x="75.5" y="10.7" width="0.8" height="2.5" fill="#3c3e1c"/><rect x="75.0" y="16.7" width="0.7" height="2.0" fill="#2c3414"/><rect x="77.1" y="22.2" width="0.7" height="1.5" fill="#44441e"/><rect x="76.6" y="29.9" width="0.7" height="2.1" fill="#44441e"/><rect x="67.4" y="16.3" width="1.2" height="1.6" fill="#4a4820"/><rect x="70.2" y="33.3" width="0.9" height="2.4" fill="#2c3414"/><rect x="77.7" y="19.6" width="0.8" height="1.9" fill="#3a3e1a"/><rect x="70.8" y="26.4" width="1.1" height="2.3" fill="#2c3414"/><rect x="67.0" y="25.1" width="0.6" height="1.8" fill="#2c3414"/><rect x="66.3" y="26.2" width="1.1" height="3.0" fill="#2a3012"/><rect x="77.2" y="18.6" width="1.0" height="1.8" fill="#2a3012"/><rect x="75.3" y="12.4" width="1.0" height="1.3" fill="#4a4820"/><rect x="73.0" y="29.5" width="0.5" height="1.7" fill="#3a3e1a"/><rect x="69.9" y="23.3" width="0.7" height="1.5" fill="#2a3012"/><rect x="70.8" y="19.7" width="0.5" height="1.3" fill="#2a3012"/><rect x="69.1" y="28.9" width="0.6" height="2.2" fill="#44441e"/><rect x="71.7" y="23.1" width="1.2" height="2.2" fill="#4a4820"/><rect x="71.9" y="29.8" width="1.1" height="2.0" fill="#2c3414"/><rect x="68.2" y="20.4" width="1.1" height="1.3" fill="#33381a"/><rect x="68.0" y="20.0" width="0.8" height="1.8" fill="#33381a"/><rect x="68.7" y="22.3" width="0.6" height="2.5" fill="#4a4820"/><rect x="72.1" y="21.6" width="1.2" height="2.3" fill="#3a3e1a"/><rect x="74.5" y="31.0" width="0.7" height="2.0" fill="#44441e"/><rect x="76.2" y="14.4" width="0.7" height="2.4" fill="#2c3414"/><rect x="73.2" y="21.2" width="0.8" height="2.6" fill="#44441e"/><rect x="67.0" y="22.1" width="1.1" height="2.2" fill="#2c3414"/><rect x="77.7" y="13.5" width="1.1" height="2.7" fill="#3a3e1a"/><rect x="65.7" y="19.2" width="1.0" height="2.3" fill="#33381a"/><rect x="68.4" y="20.6" width="1.2" height="1.6" fill="#2a3012"/><rect x="72.6" y="59.6" width="1.1" height="1.8" fill="#2a3012"/><rect x="68.5" y="53.5" width="0.6" height="2.5" fill="#4a4820"/><rect x="71.4" y="48.4" width="0.9" height="2.1" fill="#3c3e1c"/><rect x="76.9" y="45.6" width="1.1" height="2.1" fill="#3c3e1c"/><rect x="74.3" y="61.0" width="0.9" height="2.9" fill="#4a4820"/><rect x="71.0" y="43.3" width="0.6" height="2.7" fill="#3a3e1a"/><rect x="74.2" y="39.7" width="0.9" height="2.9" fill="#2a3012"/><rect x="67.7" y="62.4" width="0.6" height="2.4" fill="#33381a"/><rect x="74.2" y="53.9" width="0.9" height="2.0" fill="#2c3414"/><rect x="75.8" y="41.2" width="0.8" height="2.1" fill="#33381a"/><rect x="65.6" y="46.9" width="0.7" height="2.1" fill="#33381a"/><rect x="77.3" y="49.5" width="0.7" height="2.6" fill="#2c3414"/><rect x="76.5" y="54.4" width="0.9" height="2.0" fill="#3c3e1c"/><rect x="72.8" y="47.1" width="1.1" height="2.8" fill="#2a3012"/><rect x="67.2" y="56.2" width="0.7" height="1.7" fill="#2c3414"/><rect x="77.9" y="45.0" width="0.5" height="1.3" fill="#33381a"/><rect x="70.1" y="59.9" width="0.7" height="2.3" fill="#4a4820"/><rect x="71.1" y="55.1" width="1.0" height="2.2" fill="#4a4820"/><rect x="66.7" y="51.1" width="1.0" height="1.8" fill="#33381a"/><rect x="65.6" y="40.0" width="0.6" height="1.7" fill="#2a3012"/><rect x="71.7" y="48.6" width="0.5" height="1.5" fill="#2a3012"/><rect x="74.1" y="57.7" width="0.7" height="2.0" fill="#44441e"/><rect x="78.2" y="61.0" width="0.9" height="2.3" fill="#2c3414"/><rect x="77.0" y="61.0" width="0.6" height="2.7" fill="#3c3e1c"/><rect x="77.2" y="60.8" width="0.5" height="2.4" fill="#3a3e1a"/><rect x="72.6" y="56.5" width="0.9" height="2.1" fill="#4a4820"/><rect x="69.8" y="59.4" width="0.9" height="1.4" fill="#3a3e1a"/><rect x="66.2" y="54.3" width="0.5" height="1.5" fill="#3c3e1c"/><rect x="76.8" y="51.4" width="1.1" height="2.4" fill="#44441e"/><rect x="73.0" y="51.4" width="0.7" height="2.3" fill="#2a3012"/><rect x="66.4" y="45.7" width="0.6" height="1.5" fill="#3c3e1c"/><rect x="72.9" y="39.6" width="1.0" height="2.7" fill="#3c3e1c"/><rect x="69.6" y="47.8" width="0.7" height="1.2" fill="#44441e"/><rect x="73.0" y="41.8" width="0.7" height="1.9" fill="#2a3012"/><rect x="71.7" y="59.1" width="0.9" height="2.0" fill="#44441e"/><rect x="70.1" y="55.6" width="1.2" height="2.8" fill="#2a3012"/><rect x="69.1" y="59.2" width="0.7" height="1.5" fill="#2c3414"/><rect x="74.8" y="55.0" width="0.6" height="1.7" fill="#33381a"/><rect x="73.5" y="39.9" width="1.0" height="1.4" fill="#4a4820"/><rect x="75.8" y="49.8" width="0.9" height="2.5" fill="#33381a"/><rect x="69.0" y="53.6" width="1.1" height="2.6" fill="#44441e"/><rect x="70.3" y="43.4" width="0.8" height="2.9" fill="#2a3012"/><rect x="74.1" y="58.0" width="0.9" height="2.2" fill="#4a4820"/><rect x="74.5" y="56.1" width="0.8" height="2.6" fill="#4a4820"/><rect x="68.3" y="39.6" width="0.9" height="1.3" fill="#33381a"/><rect x="72.3" y="46.6" width="0.8" height="2.5" fill="#2c3414"/><rect x="73.2" y="45.4" width="0.9" height="2.6" fill="#3c3e1c"/><rect x="68.2" y="47.8" width="0.6" height="1.8" fill="#33381a"/><rect x="68.6" y="43.8" width="1.0" height="2.2" fill="#3c3e1c"/><rect x="73.0" y="49.5" width="1.0" height="1.5" fill="#2c3414"/><rect x="67.7" y="40.0" width="1.1" height="2.0" fill="#2c3414"/><rect x="67.0" y="54.1" width="1.1" height="1.3" fill="#2c3414"/><rect x="75.7" y="60.3" width="0.6" height="2.7" fill="#44441e"/><rect x="71.6" y="47.7" width="0.6" height="2.2" fill="#2a3012"/><rect x="76.5" y="50.4" width="0.7" height="1.7" fill="#33381a"/><rect x="65.8" y="46.7" width="0.6" height="2.2" fill="#3c3e1c"/><rect x="71.9" y="44.3" width="1.1" height="2.6" fill="#3a3e1a"/><rect x="75.1" y="58.5" width="0.5" height="2.8" fill="#3c3e1c"/><rect x="78.0" y="43.6" width="1.0" height="1.2" fill="#3c3e1c"/><rect x="70.4" y="40.5" width="1.0" height="2.3" fill="#2a3012"/><rect x="76.7" y="43.5" width="1.0" height="1.4" fill="#4a4820"/><rect x="66.1" y="44.3" width="0.8" height="2.5" fill="#3a3e1a"/><rect x="67.2" y="42.8" width="1.1" height="1.3" fill="#3c3e1c"/><rect x="71.6" y="41.8" width="0.5" height="1.5" fill="#3c3e1c"/><rect x="78.1" y="47.0" width="0.7" height="1.9" fill="#2a3012"/><rect x="70.3" y="60.5" width="1.1" height="2.7" fill="#2a3012"/><rect x="70.2" y="58.2" width="0.7" height="2.5" fill="#2c3414"/><rect x="69.8" y="82.1" width="0.6" height="2.3" fill="#2c3414"/><rect x="74.7" y="90.1" width="1.1" height="2.2" fill="#2c3414"/><rect x="69.0" y="78.0" width="0.8" height="1.5" fill="#4a4820"/><rect x="74.8" y="77.2" width="0.7" height="1.8" fill="#3c3e1c"/><rect x="74.6" y="67.5" width="1.1" height="1.3" fill="#2c3414"/><rect x="72.9" y="68.5" width="0.7" height="1.4" fill="#33381a"/><rect x="74.1" y="83.9" width="0.7" height="2.5" fill="#4a4820"/><rect x="77.4" y="79.4" width="0.5" height="2.3" fill="#3c3e1c"/><rect x="68.4" y="79.8" width="0.9" height="2.8" fill="#3a3e1a"/><rect x="68.7" y="83.8" width="0.9" height="2.6" fill="#44441e"/><rect x="74.9" y="74.5" width="0.5" height="3.0" fill="#3a3e1a"/><rect x="69.8" y="85.6" width="0.6" height="1.6" fill="#2c3414"/><rect x="75.0" y="87.3" width="1.1" height="1.9" fill="#44441e"/><rect x="75.7" y="74.8" width="0.7" height="2.7" fill="#3a3e1a"/><rect x="70.0" y="88.7" width="0.8" height="1.5" fill="#4a4820"/><rect x="69.2" y="89.2" width="1.0" height="2.8" fill="#3a3e1a"/><rect x="77.4" y="77.4" width="0.8" height="2.9" fill="#2c3414"/><rect x="73.8" y="66.5" width="0.9" height="1.7" fill="#44441e"/><rect x="72.9" y="82.0" width="1.1" height="2.2" fill="#2c3414"/><rect x="71.2" y="73.6" width="0.9" height="1.3" fill="#3c3e1c"/><rect x="71.1" y="87.5" width="1.0" height="2.4" fill="#2a3012"/><rect x="71.0" y="81.6" width="0.6" height="2.0" fill="#3a3e1a"/><rect x="72.5" y="75.1" width="1.0" height="2.6" fill="#2c3414"/><rect x="70.8" y="69.1" width="0.9" height="1.7" fill="#3c3e1c"/><rect x="66.2" y="70.1" width="1.1" height="1.3" fill="#2a3012"/><rect x="74.2" y="82.2" width="0.9" height="1.8" fill="#2a3012"/><rect x="66.3" y="77.4" width="0.5" height="2.5" fill="#33381a"/><rect x="67.7" y="69.2" width="1.1" height="2.8" fill="#3a3e1a"/><rect x="70.3" y="81.1" width="0.7" height="1.4" fill="#3c3e1c"/><rect x="73.3" y="73.1" width="0.9" height="2.9" fill="#3a3e1a"/><rect x="66.1" y="72.2" width="0.7" height="1.8" fill="#33381a"/><rect x="75.0" y="82.2" width="0.5" height="1.9" fill="#3a3e1a"/><rect x="68.5" y="79.9" width="1.1" height="2.7" fill="#3a3e1a"/><rect x="75.1" y="72.4" width="0.6" height="2.1" fill="#33381a"/><rect x="73.9" y="75.1" width="0.9" height="2.9" fill="#4a4820"/><rect x="68.4" y="68.1" width="1.1" height="1.4" fill="#2a3012"/><rect x="77.4" y="68.6" width="0.9" height="2.7" fill="#3a3e1a"/><rect x="70.1" y="71.3" width="0.6" height="2.7" fill="#3c3e1c"/><rect x="76.7" y="72.7" width="0.6" height="1.9" fill="#44441e"/><rect x="66.6" y="67.8" width="0.5" height="1.8" fill="#4a4820"/><rect x="70.7" y="69.7" width="1.2" height="1.7" fill="#3a3e1a"/><rect x="72.7" y="71.8" width="0.6" height="2.9" fill="#3a3e1a"/><rect x="69.7" y="90.4" width="0.6" height="2.7" fill="#4a4820"/><rect x="72.7" y="72.2" width="1.2" height="1.4" fill="#2a3012"/><rect x="69.6" y="72.8" width="1.0" height="2.5" fill="#4a4820"/><rect x="74.1" y="76.7" width="1.0" height="2.5" fill="#44441e"/><rect x="71.2" y="81.6" width="0.7" height="1.7" fill="#4a4820"/><rect x="74.7" y="87.5" width="0.7" height="1.7" fill="#3c3e1c"/><rect x="72.6" y="90.7" width="0.7" height="1.9" fill="#4a4820"/><rect x="72.8" y="74.7" width="1.1" height="1.9" fill="#3a3e1a"/><rect x="70.4" y="77.9" width="0.9" height="1.6" fill="#2c3414"/><rect x="76.9" y="84.3" width="0.9" height="1.8" fill="#3a3e1a"/><rect x="71.3" y="71.1" width="1.1" height="2.8" fill="#44441e"/><rect x="71.5" y="80.5" width="1.2" height="2.7" fill="#4a4820"/><rect x="67.3" y="71.2" width="0.6" height="2.6" fill="#44441e"/><rect x="71.7" y="67.5" width="1.0" height="2.4" fill="#2a3012"/><rect x="69.5" y="72.2" width="0.9" height="2.7" fill="#3c3e1c"/><rect x="76.9" y="77.2" width="1.0" height="2.6" fill="#33381a"/><rect x="77.1" y="82.3" width="1.2" height="1.5" fill="#2c3414"/><rect x="72.7" y="90.2" width="0.9" height="2.1" fill="#33381a"/>
  </g>
  <!-- handwriting -->
  <g fill="none" stroke="#1a1a1a" stroke-width="1.5" stroke-linecap="round" stroke-linejoin="round">
    <path d="M389 5 Q396 9 405 9.5"/>
    <!-- ellipse around RNA Isolation -->
    <path d="M504.8 10.4 C492 22 490 45 505 62 C520 78 560 82 585 72 C606 62 614 40 608 22 C604 10 596 3 589 0"/>
    <path d="M511.2 25.6 C526 14 545 5 560 0"/>
    <!-- curves under mRNA -->
    <path d="M429.3 92.7 Q450 85 476.5 90.8"/>
    <path d="M640.4 94.3 Q648 95 660 93 Q675 89 685 89.7 Q690 90 691.6 93.2"/>
    <!-- y glyph -->
    <path d="M489.4 86.3 C491.5 89 494.5 92.5 496.6 95.6 L492.4 101.6"/>
    <path d="M497.9 90.2 C497.8 93 498 95 499 97 C500.5 99.5 502 101.5 501.8 104 C501.6 107 499.5 107.8 497.8 107 C496.2 106 495.4 104.5 494.8 103.6"/>
    <!-- Cancer -->
    <path d="M374.8 154.6 C372.6 155.6 370.8 157.4 370.3 160 C369.8 163 370.6 165.6 372.4 167 C374 168.4 376.2 168.6 378 167.4 C379.2 166.6 380 165.6 380.8 164.2"/>
    <g transform="translate(384 153) rotate(-55) scale(1.15)" stroke-width="1.3"><path d="M3 -2 C2 -3.5 -2 -3.5 -2.5 0 C-2.8 2.5 0.5 3.5 2.5 0.5 C3 -0.5 3.2 -2 3.2 -3 C3.2 -1 3 1.5 4 3"/></g>
    <g transform="translate(390.6 143) rotate(-58) scale(1.15)" stroke-width="1.3"><path d="M-3 3 L-2.5 -2.5 C-1.5 -3.5 1.5 -3.8 2.5 -2 C3.2 -0.5 3 1.5 3.5 3"/></g>
    <g transform="translate(394.2 134.2) rotate(-60) scale(1.05)" stroke-width="1.4"><path d="M3 -2.2 C1.5 -3.6 -2.5 -3 -3 0 C-3.2 2.5 0.5 3.5 3 2"/></g>
    <path d="M394.9 130 C396 125 397.6 119.4 399.6 114.2"/>
    <path d="M396.6 129.4 C397.6 126.4 398.4 124.4 399.8 122.8 C400.8 121.8 402 121.4 403 121.8 C404 122.2 405 122.2 406 121 C406.8 120 407.6 118.8 408.4 117.6"/>
    <path d="M402.4 145 C404.6 146.6 406.8 148.4 408.8 150.4 M411.8 146.4 C411 150 409.8 153.4 407.6 156.8 C406.6 158.2 405.2 157.6 405.6 156.4 C406.6 155 409.6 154.6 412.4 155.4"/>
    <!-- check marks right -->
    <path d="M688.4 148.6 L681.3 155.5"/>
    <path d="M679 150.2 C675.5 153 674.5 157 676 159.6 C678.5 161.5 683 161 687.6 160.4"/>
    <path d="M709.8 165.5 L706 169.5"/>
    <path d="M705.6 164.8 C704 168 703.8 172 705.6 174 C707.5 175 709.5 174.6 711.1 173.7"/>
    <path d="M682.1 212.1 L688.4 200.3 L693.1 204.3"/>
    <path d="M688.4 209 L686.8 223.9"/>
    <!-- long line near slide -->
    <path d="M546.4 474.3 C556 463 575 448 600 431 C630 411 670 387 700.2 369" stroke-width="1.2" stroke="#2a2a2a"/>
  </g>
  <text x="692.5" y="202" font-size="7" font-family="Liberation Sans" font-weight="bold" fill="#222">*</text>
</svg>

<div class="t" style="left:356px;top:32.9px;font-size:13.6px;transform:scaleX(1.043)">RNA Isolation</div>
<div class="t" style="left:357px;top:98.3px;font-size:13.6px;transform:scaleX(1.062)">Reverse</div>
<div class="t" style="left:357px;top:114.3px;font-size:13.6px;transform:scaleX(1.024)">Transcriptase</div>
<div class="t" style="left:356.5px;top:130.3px;font-size:13.6px;transform:scaleX(1.042)">Labeling</div>
<div class="t" style="left:361.8px;top:217.7px;font-size:13.6px;transform:scaleX(1.052)">Combine Targets</div>
<div class="t" style="left:306.5px;top:271px;font-size:13.6px;transform:scaleX(1.056)">Hybridize to</div>
<div class="t" style="left:306.5px;top:287.2px;font-size:13.6px;transform:scaleX(1.045)">Microarray</div>

<div class="t" style="left:250px;top:75px;font-size:7.8px;transform:scaleX(1.25);color:#123c46;text-shadow:0.3px 0 0 #123c46,-0.3px 0 0 #123c46">mRNA</div>
<div class="t" style="left:461px;top:75px;font-size:7.8px;transform:scaleX(1.25);color:#123c46;text-shadow:0.3px 0 0 #123c46,-0.3px 0 0 #123c46">mRNA</div>
<div class="t" style="left:252px;top:167.5px;font-size:9.2px;transform:scaleX(1.2);color:#fff">cDNA</div>
<div class="t" style="left:459px;top:167.5px;font-size:9.2px;transform:scaleX(1.2);color:#e8f5ec">cDNA</div>
<div class="t" style="left:252.6px;top:186.9px;font-size:9px;letter-spacing:0.6px;transform:scaleX(1.1);color:#932f40;text-shadow:0.3px 0 0 #932f40">"Red Flourescent" Probes</div>
<div class="t" style="left:461.9px;top:186px;font-size:9px;letter-spacing:0.6px;transform:scaleX(1.075);color:#339c60;text-shadow:0.3px 0 0 #339c60">"Green Fluorescent" Probes</div>

<svg width="1000" height="562" viewBox="0 0 1000 562">
  <defs>
    <filter id="soft" x="-5%" y="-5%" width="110%" height="110%"><feGaussianBlur stdDeviation="0.8"/></filter>
    <filter id="soft2" x="-20%" y="-20%" width="140%" height="140%"><feGaussianBlur stdDeviation="1.8"/></filter>
    <linearGradient id="hairTop" x1="0" y1="0" x2="0" y2="1">
      <stop offset="0" stop-color="#8a7754"/>
      <stop offset="0.45" stop-color="#a08a62"/>
      <stop offset="1" stop-color="#b49a74"/>
    </linearGradient>
    <linearGradient id="strandL" x1="0" y1="0" x2="0" y2="1">
      <stop offset="0" stop-color="#ad9470"/>
      <stop offset="0.25" stop-color="#ccb088"/>
      <stop offset="0.6" stop-color="#d8c09a"/>
      <stop offset="0.86" stop-color="#d8c6a6"/>
      <stop offset="1" stop-color="#d4c8b4" stop-opacity="0.65"/>
    </linearGradient>
    <linearGradient id="strandR" x1="0" y1="0" x2="0" y2="1">
      <stop offset="0" stop-color="#b09674"/>
      <stop offset="0.25" stop-color="#ceb28a"/>
      <stop offset="0.6" stop-color="#dac29c"/>
      <stop offset="0.8" stop-color="#d9c8a8" stop-opacity="0.92"/>
      <stop offset="1" stop-color="#d4c8b4" stop-opacity="0.6"/>
    </linearGradient>
    <radialGradient id="skinF" cx="0.5" cy="0.42" r="0.6">
      <stop offset="0" stop-color="#e4cbc2"/>
      <stop offset="0.6" stop-color="#dcc0b4"/>
      <stop offset="1" stop-color="#c9a898"/>
    </radialGradient>
    <linearGradient id="armG" x1="0" y1="0" x2="1" y2="0">
      <stop offset="0" stop-color="#d9c3b8"/>
      <stop offset="0.5" stop-color="#c7a898"/>
      <stop offset="1" stop-color="#b89888"/>
    </linearGradient>
    <clipPath id="cpL"><path d="M774.4 380 L772.8 390 C771 396 768.5 403 767.5 410 C766 420 764.5 432 762 440 C759 448 756 454 753 462 C751 470 750.2 478 749.5 490 C749 500 751 508 754.5 515 C757.5 522 758.5 530 757.5 537 C756 543 754 549 753.5 554 L753 559.6 L787 559.6 C786 555 785 551 783.5 547 C781 542 778 537 776.8 531 C776.5 525 778 519 780 513 C781 508 781.6 504 781.9 500 C782.5 490 783 485 783.3 480 C784.5 472 786 466 786.5 460 C787.5 452 788 446 787.8 440 C785 434 782 426 780.5 415 C779 405 778.5 395 778.3 383 Z"/></clipPath>
    <clipPath id="cpR"><path d="M850.7 380 L853.9 390 C855.5 398 857 408 859 418 C861 428 864 434 868 442 C870 452 870.5 462 869.5 475 C869 482 868 486 866.4 490 C864.5 496 863 501 861.3 505 C860 509 859 512 857.4 515 C856 519 854 522 852.3 525 C850.5 529 849 532 847.2 535 C845 539 842 542 839.5 545 C837 549 835 552 834.4 555 L833.5 559.6 L825 559.6 L825.4 555 C826 551 827 548 828 545 C829.2 541 830.5 538 831.8 535 C833 531 834.2 528 834.4 525 C834.6 521 834.3 518 834.4 515 C834.6 511 835.4 508 835.6 505 C834 500 831 495 830.5 490 C830.5 483 831.5 477 832.5 470 C833.5 460 834.3 450 835.5 443 C837.5 434 840 426 841.2 415 C841.8 405 841.8 395 841.5 382 Z"/></clipPath>
    <clipPath id="cpB"><path d="M813.4 339.8 C800 340 790 346 784 356 C778 366 775 376 774 387 C784 385.5 795 385 805 385.5 C818 385.5 830 382.5 842 381.5 L851 383 C850 372 847 362 842 354 C834 344 824 340 813.4 339.8 Z"/></clipPath>
    <linearGradient id="wispG" x1="0" y1="0" x2="1" y2="0">
      <stop offset="0" stop-color="#cdb894"/>
      <stop offset="0.5" stop-color="#d2cab8"/>
      <stop offset="1" stop-color="#dcd8d0"/>
    </linearGradient>
  </defs>
  <g filter="url(#soft)">
    <!-- back hair -->
    <path d="M813.4 339.8 C800 340 790 346 784 356 C777 366 773 380 772 392 L766 425 L760 458 L790 472 L840 474 L868 472 L866 440 L857 425 L854 392 C853 378 849 362 842 354 C834 344 824 340 813.4 339.8 Z" fill="#7e6646"/>
    <!-- shirt -->
    <path d="M733 460 C738 457 742 454 746 453 C760 455 776 460 792 467 C800 472 808 474.5 815 474.5 C824 474.5 830 473.5 836 472 C848 470 860 470 868 472 C873 472.5 878 473 881.3 474.2 C885 475.5 888 477.5 891 480.6 C894 484 896.5 487 898.4 490.2 C900.5 493.5 902.5 496.5 903.8 499.8 C905 503 905.6 508 905.9 512.6 C906.8 519 907.8 524 908.4 530 L913.6 559.6 L742.6 559.6 L739.3 530.6 C733 528 724 525 718 520.8 L709.8 512.6 C713 498 720 478 733 460 Z" fill="#1f2a42"/>
    <!-- left arm -->
    <path d="M716 520 C724 525 733 529 739.3 530.6 L742.6 559.6 L709.6 559.6 C709 548 711 534 716 520 Z" fill="url(#armG)"/>
    <!-- right hand -->
    <path d="M881 549 C886 546 892 547 896 552 L898 559.6 L880 559.6 Z" fill="#cdbdbb"/>
    <!-- neck -->
    <path d="M791 434 L837 434 L835 472 C830 473.5 824 474.5 815 474.5 C808 474.5 800 472 793 468 Z" fill="#d8baac"/>
    <path d="M792 438 C800 448 820 452 837 438 L837 452 C820 458 800 456 792 450 Z" fill="#c9a596" opacity="0.7"/>
    <!-- face -->
    <path d="M778 383 C777.5 398 779 412 782 423 C786 435 795 444 806 446 C817 446 828 440 834 432 C839.5 424 841.5 410 841.8 396 L841.8 382 Z" fill="url(#skinF)"/>
    <!-- shadow between hair and face left -->
    <path d="M778 402 C779 416 782 428 789 438 C792 442 795 446 797 452 L797 469 L786 466 C781 440 777 422 776.5 402 Z" fill="#6e5840"/>
  </g>
  <!-- shirt print -->
  <g filter="url(#soft)" fill="#e2a82a" stroke="#e2a82a" stroke-width="3" stroke-linejoin="miter" font-family="Liberation Sans" font-weight="bold" font-size="29">
    <text transform="translate(744.5 535.5) rotate(4) scale(0.74 1)">C</text>
    <text transform="translate(760 539) rotate(6) scale(0.74 1)">L</text>
    <text transform="translate(776 544) rotate(7) scale(0.74 1)">U</text>
    <text transform="translate(796 548.5) rotate(7) scale(0.84 1)">T</text>
    <text transform="translate(812.5 552.5) rotate(7) scale(0.74 1)">C</text>
    <text transform="translate(833.5 556.5) rotate(5) scale(0.76 1)">H</text>
  </g>
  <g filter="url(#soft)" fill="none" stroke="#e0a62a" stroke-width="2.8" stroke-linejoin="miter">
    <path d="M805.4 527.2 L807.2 519.4 L834.8 511.6 L857.6 516 L878.4 531.6 L873.2 561"/>
    <path d="M813.8 527.2 L836 520"/>
    <path d="M868 534.2 L865.4 561"/>
    <path d="M807.2 553 L816.8 561"/>
  </g>
  <!-- wispy light hair on right -->
  <path filter="url(#soft)" d="M855 398 C859 410 864 424 869 436 C873 446 877 456 880.5 468 L882 474 L866 474 L862 440 L856 415 Z" fill="url(#wispG)" opacity="0.9"/>
  <g filter="url(#soft)">
    <!-- left front strand -->
    <path d="M774.4 380 L772.8 390 C771 396 768.5 403 767.5 410 C766 420 764.5 432 762 440 C759 448 756 454 753 462 C751 470 750.2 478 749.5 490 C749 500 751 508 754.5 515 C757.5 522 758.5 530 757.5 537 C756 543 754 549 753.5 554 L753 559.6 L787 559.6 C786 555 785 551 783.5 547 C781 542 778 537 776.8 531 C776.5 525 778 519 780 513 C781 508 781.6 504 781.9 500 C782.5 490 783 485 783.3 480 C784.5 472 786 466 786.5 460 C787.5 452 788 446 787.8 440 C785 434 782 426 780.5 415 C779 405 778.5 395 778.3 383 Z" fill="url(#strandL)"/>
    <!-- right front strand -->
    <path d="M850.7 380 L853.9 390 C855.5 398 857 408 859 418 C861 428 864 434 868 442 C870 452 870.5 462 869.5 475 C869 482 868 486 866.4 490 C864.5 496 863 501 861.3 505 C860 509 859 512 857.4 515 C856 519 854 522 852.3 525 C850.5 529 849 532 847.2 535 C845 539 842 542 839.5 545 C837 549 835 552 834.4 555 L833.5 559.6 L825 559.6 L825.4 555 C826 551 827 548 828 545 C829.2 541 830.5 538 831.8 535 C833 531 834.2 528 834.4 525 C834.6 521 834.3 518 834.4 515 C834.6 511 835.4 508 835.6 505 C834 500 831 495 830.5 490 C830.5 483 831.5 477 832.5 470 C833.5 460 834.3 450 835.5 443 C837.5 434 840 426 841.2 415 C841.8 405 841.8 395 841.5 382 Z" fill="url(#strandR)"/>
    <!-- bangs / top cap -->
    <path d="M813.4 339.8 C800 340 790 346 784 356 C778 366 775 376 774 387 C784 385.5 795 385 805 385.5 C818 385.5 830 382.5 842 381.5 L851 383 C850 372 847 362 842 354 C834 344 824 340 813.4 339.8 Z" fill="url(#hairTop)"/>
  </g>
  <!-- hair streaks -->
  <g filter="url(#soft)">
    <g clip-path="url(#cpL)" fill="none" stroke-linecap="round">
    <path d="M758.0 380 C758.3 439.4 758.5 498.8 758.2 560" stroke="#d6bf94" stroke-width="2.1" opacity="0.52"/>
    <path d="M772.4 380 C773.2 439.4 773.7 498.8 772.8 560" stroke="#9c8058" stroke-width="1.2" opacity="0.43"/>
    <path d="M789.8 380 C789.6 439.4 789.5 498.8 789.7 560" stroke="#8e744e" stroke-width="1.5" opacity="0.57"/>
    <path d="M754.3 380 C755.4 439.4 755.9 498.8 754.9 560" stroke="#8e744e" stroke-width="1.3" opacity="0.36"/>
    <path d="M780.6 380 C777.9 439.4 776.6 498.8 779.3 560" stroke="#8e744e" stroke-width="0.9" opacity="0.62"/>
    <path d="M782.6 380 C780.7 439.4 779.8 498.8 781.7 560" stroke="#8e744e" stroke-width="1.8" opacity="0.66"/>
    <path d="M778.0 380 C781.4 439.4 783.0 498.8 779.7 560" stroke="#9c8058" stroke-width="1.8" opacity="0.55"/>
    <path d="M788.5 380 C785.6 439.4 784.1 498.8 787.0 560" stroke="#d6bf94" stroke-width="0.9" opacity="0.40"/>
    <path d="M757.1 380 C760.8 439.4 762.7 498.8 759.0 560" stroke="#9c8058" stroke-width="1.9" opacity="0.65"/>
    <path d="M765.7 380 C768.4 439.4 769.7 498.8 767.0 560" stroke="#8e744e" stroke-width="1.3" opacity="0.55"/>
    <path d="M772.5 380 C775.8 439.4 777.4 498.8 774.2 560" stroke="#a88c62" stroke-width="2.1" opacity="0.36"/>
    <path d="M759.7 380 C760.6 439.4 761.0 498.8 760.2 560" stroke="#a88c62" stroke-width="1.0" opacity="0.65"/>
    <path d="M788.5 380 C791.8 439.4 793.4 498.8 790.1 560" stroke="#8e744e" stroke-width="0.9" opacity="0.58"/>
    <path d="M774.6 380 C778.5 439.4 780.4 498.8 776.5 560" stroke="#d6bf94" stroke-width="1.2" opacity="0.37"/>
    <path d="M783.9 380 C787.8 439.4 789.7 498.8 785.8 560" stroke="#dcc8a0" stroke-width="1.3" opacity="0.37"/>
    <path d="M785.7 380 C781.8 439.4 779.9 498.8 783.8 560" stroke="#9c8058" stroke-width="1.9" opacity="0.66"/>
    <path d="M749.9 380 C750.8 439.4 751.2 498.8 750.3 560" stroke="#dcc8a0" stroke-width="1.3" opacity="0.56"/>
    <path d="M771.1 380 C774.5 439.4 776.2 498.8 772.8 560" stroke="#d6bf94" stroke-width="1.5" opacity="0.70"/>
    <path d="M761.0 380 C757.6 439.4 755.9 498.8 759.3 560" stroke="#8e744e" stroke-width="1.5" opacity="0.68"/>
    <path d="M788.8 380 C787.1 439.4 786.3 498.8 788.0 560" stroke="#d6bf94" stroke-width="1.0" opacity="0.36"/>
    <path d="M784.4 380 C783.0 439.4 782.2 498.8 783.7 560" stroke="#e2d0aa" stroke-width="2.1" opacity="0.48"/>
    <path d="M767.3 380 C767.5 439.4 767.6 498.8 767.4 560" stroke="#a88c62" stroke-width="2.0" opacity="0.59"/>
    </g>
    <g clip-path="url(#cpR)" fill="none" stroke-linecap="round">
    <path d="M830.7 380 C835.4 439.4 837.8 498.8 833.1 560" stroke="#8e744e" stroke-width="1.2" opacity="0.57"/>
    <path d="M858.9 380 C863.3 439.4 865.5 498.8 861.1 560" stroke="#9c8058" stroke-width="2.2" opacity="0.53"/>
    <path d="M851.2 380 C846.3 439.4 843.9 498.8 848.8 560" stroke="#9c8058" stroke-width="2.2" opacity="0.46"/>
    <path d="M843.3 380 C844.2 439.4 844.7 498.8 843.8 560" stroke="#e2d0aa" stroke-width="0.9" opacity="0.57"/>
    <path d="M847.4 380 C849.2 439.4 850.1 498.8 848.3 560" stroke="#d6bf94" stroke-width="1.7" opacity="0.45"/>
    <path d="M848.5 380 C849.4 439.4 849.9 498.8 849.0 560" stroke="#a88c62" stroke-width="0.8" opacity="0.48"/>
    <path d="M854.9 380 C852.9 439.4 851.9 498.8 853.9 560" stroke="#8e744e" stroke-width="1.2" opacity="0.48"/>
    <path d="M840.4 380 C839.1 439.4 838.4 498.8 839.7 560" stroke="#8e744e" stroke-width="1.2" opacity="0.63"/>
    <path d="M830.8 380 C834.0 439.4 835.5 498.8 832.4 560" stroke="#8e744e" stroke-width="1.8" opacity="0.40"/>
    <path d="M849.0 380 C850.5 439.4 851.3 498.8 849.8 560" stroke="#d6bf94" stroke-width="1.1" opacity="0.42"/>
    <path d="M846.0 380 C848.0 439.4 849.0 498.8 847.0 560" stroke="#dcc8a0" stroke-width="1.6" opacity="0.68"/>
    <path d="M857.0 380 C854.3 439.4 852.9 498.8 855.7 560" stroke="#e2d0aa" stroke-width="0.9" opacity="0.61"/>
    <path d="M836.0 380 C836.7 439.4 837.1 498.8 836.4 560" stroke="#d6bf94" stroke-width="1.1" opacity="0.39"/>
    <path d="M850.4 380 C847.3 439.4 845.7 498.8 848.8 560" stroke="#8e744e" stroke-width="1.1" opacity="0.45"/>
    <path d="M863.1 380 C864.6 439.4 865.3 498.8 863.8 560" stroke="#8e744e" stroke-width="1.3" opacity="0.40"/>
    <path d="M839.4 380 C842.4 439.4 843.8 498.8 840.9 560" stroke="#d6bf94" stroke-width="1.5" opacity="0.57"/>
    <path d="M839.4 380 C840.0 439.4 840.4 498.8 839.7 560" stroke="#dcc8a0" stroke-width="2.1" opacity="0.40"/>
    <path d="M826.2 380 C830.6 439.4 832.9 498.8 828.4 560" stroke="#8e744e" stroke-width="2.2" opacity="0.50"/>
    <path d="M869.7 380 C874.0 439.4 876.1 498.8 871.8 560" stroke="#e2d0aa" stroke-width="0.8" opacity="0.51"/>
    <path d="M860.7 380 C863.1 439.4 864.4 498.8 861.9 560" stroke="#d6bf94" stroke-width="1.6" opacity="0.66"/>
    <path d="M865.6 380 C869.2 439.4 871.0 498.8 867.4 560" stroke="#d6bf94" stroke-width="1.0" opacity="0.44"/>
    <path d="M827.6 380 C830.6 439.4 832.2 498.8 829.1 560" stroke="#8e744e" stroke-width="2.1" opacity="0.66"/>
    </g>
    <g clip-path="url(#cpB)" fill="none" stroke-linecap="round">
    <path d="M844.0 338 C844.3 354.5 844.4 371.0 844.1 388" stroke="#b09870" stroke-width="1.5" opacity="0.39"/>
    <path d="M812.3 338 C811.2 354.5 810.7 371.0 811.7 388" stroke="#b09870" stroke-width="1.5" opacity="0.49"/>
    <path d="M847.1 338 C847.6 354.5 847.8 371.0 847.3 388" stroke="#bca478" stroke-width="1.0" opacity="0.69"/>
    <path d="M815.3 338 C816.5 354.5 817.1 371.0 815.9 388" stroke="#b09870" stroke-width="1.3" opacity="0.42"/>
    <path d="M814.8 338 C816.0 354.5 816.7 371.0 815.4 388" stroke="#a89068" stroke-width="1.1" opacity="0.45"/>
    <path d="M843.2 338 C841.7 354.5 840.9 371.0 842.4 388" stroke="#b09870" stroke-width="1.5" opacity="0.55"/>
    <path d="M804.0 338 C805.0 354.5 805.6 371.0 804.5 388" stroke="#a89068" stroke-width="1.2" opacity="0.53"/>
    <path d="M805.8 338 C805.7 354.5 805.7 371.0 805.8 388" stroke="#b09870" stroke-width="2.0" opacity="0.62"/>
    <path d="M775.7 338 C773.9 354.5 773.0 371.0 774.8 388" stroke="#7a6846" stroke-width="2.2" opacity="0.65"/>
    <path d="M778.9 338 C778.9 354.5 778.9 371.0 778.9 388" stroke="#bca478" stroke-width="1.0" opacity="0.38"/>
    <path d="M802.9 338 C802.4 354.5 802.2 371.0 802.6 388" stroke="#bca478" stroke-width="1.3" opacity="0.42"/>
    <path d="M798.3 338 C796.8 354.5 796.0 371.0 797.5 388" stroke="#86724e" stroke-width="0.8" opacity="0.60"/>
    <path d="M835.6 338 C835.9 354.5 836.0 371.0 835.8 388" stroke="#b09870" stroke-width="1.3" opacity="0.56"/>
    <path d="M834.6 338 C834.1 354.5 833.9 371.0 834.4 388" stroke="#b09870" stroke-width="1.7" opacity="0.50"/>
    <path d="M801.8 338 C801.8 354.5 801.8 371.0 801.8 388" stroke="#6e5e40" stroke-width="1.2" opacity="0.68"/>
    <path d="M805.5 338 C803.5 354.5 802.6 371.0 804.5 388" stroke="#a89068" stroke-width="1.6" opacity="0.59"/>
    <path d="M777.7 338 C777.4 354.5 777.3 371.0 777.6 388" stroke="#7a6846" stroke-width="1.0" opacity="0.36"/>
    <path d="M798.0 338 C799.9 354.5 800.9 371.0 799.0 388" stroke="#86724e" stroke-width="1.9" opacity="0.44"/>
    <path d="M809.1 338 C807.6 354.5 806.9 371.0 808.4 388" stroke="#6e5e40" stroke-width="1.7" opacity="0.66"/>
    <path d="M835.4 338 C836.1 354.5 836.4 371.0 835.7 388" stroke="#6e5e40" stroke-width="1.2" opacity="0.54"/>
    <path d="M836.9 338 C837.8 354.5 838.2 371.0 837.4 388" stroke="#7a6846" stroke-width="1.0" opacity="0.62"/>
    <path d="M775.5 338 C773.9 354.5 773.1 371.0 774.7 388" stroke="#b09870" stroke-width="1.7" opacity="0.48"/>
    <path d="M837.6 338 C836.9 354.5 836.6 371.0 837.2 388" stroke="#b09870" stroke-width="0.8" opacity="0.39"/>
    <path d="M810.6 338 C811.3 354.5 811.7 371.0 810.9 388" stroke="#bca478" stroke-width="1.6" opacity="0.63"/>
    <path d="M774.9 338 C776.0 354.5 776.5 371.0 775.4 388" stroke="#86724e" stroke-width="1.5" opacity="0.43"/>
    <path d="M816.4 338 C814.8 354.5 814.0 371.0 815.6 388" stroke="#86724e" stroke-width="0.9" opacity="0.46"/>
    </g>
  </g>
  <!-- glasses -->
  <g filter="url(#soft)" fill="none" stroke="#3c201c" stroke-width="1.8">
    <path d="M774.1 389.5 C776 387 790 386.2 801.8 387.5 C802.5 392 800.5 397.5 797.5 399.6 C790 400.8 780 400.5 776.5 399 C774.5 396 774 392.5 774.1 389.5 Z" fill="#d9c2ba" fill-opacity="0.7"/>
    <path d="M807.7 387.6 C815 384.2 830 382.8 838.6 385.2 C838.8 390 837 395 833 397 C826 398 815 398.5 810.5 397.5 C808.5 395 807.5 391 807.7 387.6 Z" fill="#d9c2ba" fill-opacity="0.7"/>
    <path d="M801.8 388.2 C803.5 387.2 806 387.2 807.7 388"/>
    <path d="M838.6 385.5 L842 386"/>
  </g>
  <!-- face features -->
  <g filter="url(#soft)">
    <ellipse cx="805.5" cy="404" rx="6" ry="4" fill="#d8b0a4" opacity="0.6"/>
    <ellipse cx="801.8" cy="406" rx="1.5" ry="1.1" fill="#6e4038"/>
    <ellipse cx="809.3" cy="405" rx="1.5" ry="1.1" fill="#6e4038"/>
    <path d="M783 394 C787 395.5 792 395.5 796 394" stroke="#8c6a62" stroke-width="1" fill="none" opacity="0.7"/>
    <path d="M816 392 C820 393.5 826 393.5 831 391.5" stroke="#8c6a62" stroke-width="1" fill="none" opacity="0.7"/>
    <path d="M797 419 C803 416.5 812 416.5 818.4 418.5 C813 423.5 803 424 797 419 Z" fill="#a07c78"/>
    <path d="M799.5 419.6 C805 421 812 421 816.5 419.2" stroke="#583838" stroke-width="1.4" fill="none"/>
  </g>
</svg>

</div>
</body>
</html>
